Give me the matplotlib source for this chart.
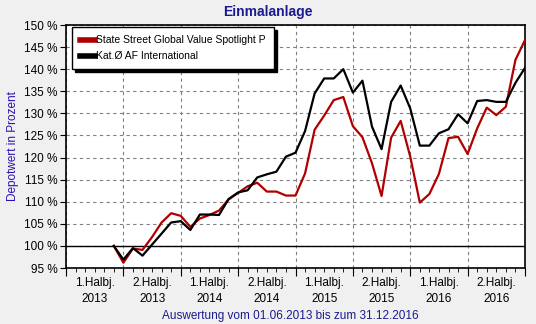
import matplotlib.pyplot as plt
import numpy as np

# month index 0 = Jan 2013, data monthly from 01.06.2013 to 31.12.2016
start_month = 5
fonds = [100.0, 96.2, 99.4, 99.1, 102.0, 105.3, 107.4, 106.8, 104.3, 106.2,
         107.0, 108.0, 110.5, 112.0, 113.5, 114.3, 112.3, 112.3, 111.4, 111.4,
         116.4, 126.3, 129.5, 133.0, 133.7, 127.1, 124.6, 118.7, 111.3, 124.5,
         128.3, 120.2, 109.8, 111.75, 116.3, 124.4, 124.7, 120.8, 126.6, 131.3,
         129.6, 131.5, 142.1, 146.6]
kategorie = [100.0, 96.9, 99.5, 97.8, 100.3, 102.8, 105.3, 105.6, 103.6, 107.1,
             107.1, 107.0, 110.6, 112.1, 112.6, 115.5, 116.2, 116.8, 120.2, 121.1,
             126.0, 134.5, 137.9, 137.9, 140.0, 134.7, 137.4, 127.0, 121.9, 132.6,
             136.3, 131.1, 122.7, 122.7, 125.5, 126.4, 129.8, 127.75, 132.8, 133.0,
             132.6, 132.6, 136.9, 140.3]
names = ['State Street Global Value Spotlight P', 'Kat.Ø AF International']
half_labels = ['1.Halbj.\n2013', '2.Halbj.\n2013', '1.Halbj.\n2014', '2.Halbj.\n2014',
               '1.Halbj.\n2015', '2.Halbj.\n2015', '1.Halbj.\n2016', '2.Halbj.\n2016']

plt.rcParams['font.family'] = ['Liberation Sans', 'DejaVu Sans']
bg = '#f0f0f0'

fig = plt.figure(figsize=(5.36, 3.24), dpi=100, facecolor=bg)
ax = fig.add_axes([66 / 536, 1 - 268 / 324, 459 / 536, 243 / 324])

x = np.arange(len(fonds)) + start_month
ax.axhline(100, color='black', linewidth=1.0, zorder=2)
ax.plot(x, fonds, color='#b00000', linewidth=1.6, label=names[0], zorder=3)
ax.plot(x, kategorie, color='black', linewidth=1.6, label=names[1], zorder=4)

ax.set_xlim(0, 48)
ax.set_ylim(95, 150)
ax.set_yticks(np.arange(95, 151, 5))
ax.set_yticklabels(['%d %%' % v for v in range(95, 151, 5)], fontsize=8.5)
ax.set_xticks(np.arange(0, 49, 6))
ax.set_xticklabels([])
ax.set_xticks(np.arange(0, 49, 1), minor=True)
ax.tick_params(axis='x', which='major', length=6, direction='out')
ax.tick_params(axis='x', which='minor', length=3, direction='out')
ax.tick_params(axis='y', length=4, direction='out', pad=2)
for i, lab in enumerate(half_labels):
    ax.text(3 + 6 * i, 93.0, lab, ha='center', va='top', fontsize=8.5,
            linespacing=1.5)

ax.grid(True, which='major', linestyle=(0, (3, 3)), color='#808080', linewidth=0.8)
for s in ax.spines.values():
    s.set_linewidth(1.2)

ax.set_ylabel('Depotwert in Prozent', color='#2a10b0', fontsize=8.5, labelpad=4)
fig.text(0.5, 1 - 12 / 324, 'Einmalanlage', ha='center', va='center',
         fontsize=10, fontweight='bold', color='#1a1a90')
fig.text(290 / 536, 1 - 316 / 324, 'Auswertung vom 01.06.2013 bis zum 31.12.2016',
         ha='center', va='center', fontsize=8.5, color='#1a1a90')

leg = ax.legend(loc='upper left', bbox_to_anchor=(0.013, 0.99), borderaxespad=0,
                fontsize=7.5, fancybox=False, shadow={'color': 'black', 'alpha': 1},
                edgecolor='black', framealpha=1, handlelength=1.5,
                handletextpad=0.1, borderpad=0.75, labelspacing=0.6)
leg.get_frame().set_linewidth(1.0)
for h in leg.get_lines():
    h.set_linewidth(4)

fig.savefig('out.png', dpi=100, facecolor=bg)
